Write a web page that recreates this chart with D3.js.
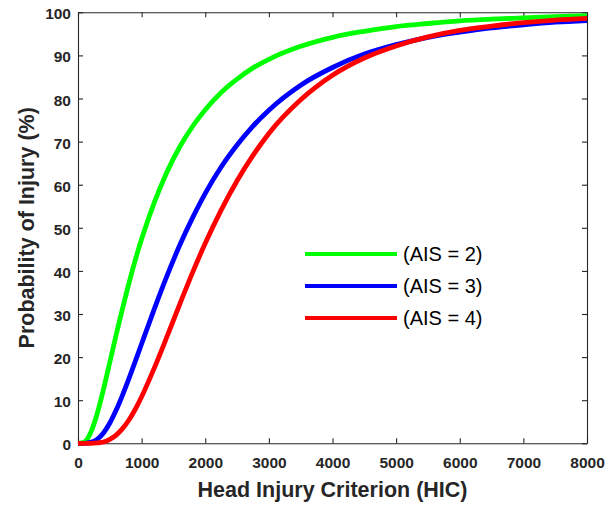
<!DOCTYPE html>
<html>
<head>
<meta charset="utf-8">
<script src="https://cdn.jsdelivr.net/npm/d3@7/dist/d3.min.js"></script>
<style>
  html, body { margin: 0; padding: 0; background: #ffffff; }
  svg { display: block; }
  text { font-family: "Liberation Sans", Arial, Helvetica, sans-serif; }
</style>
</head>
<body>
<svg id="chart" width="616" height="505"></svg>
<script>
// ---- data ----
const hic = [0, 100, 200, 300, 400, 500, 600, 700, 800, 900, 1000, 1200, 1400, 1600, 1800, 2000, 2250, 2500, 2750, 3000, 3500, 4000, 4500, 5000, 5500, 6000, 6500, 7000, 7500, 8000];
const ais2 = [0, 0.3, 2.5, 6.8, 12.5, 18.8, 25.2, 31.3, 37.1, 42.5, 47.4, 55.9, 63.0, 68.8, 73.5, 77.4, 81.4, 84.5, 87.1, 89.1, 92.1, 94.2, 95.6, 96.7, 97.4, 98.0, 98.4, 98.7, 99.0, 99.2];
const ais3 = [0, 0, 0.2, 0.9, 2.4, 4.7, 7.7, 11.2, 15.0, 19.0, 23.1, 31.2, 38.9, 46.0, 52.3, 58.0, 64.1, 69.2, 73.6, 77.3, 83.1, 87.2, 90.3, 92.5, 94.2, 95.4, 96.4, 97.1, 97.7, 98.1];
const ais4 = [0, 0, 0, 0.1, 0.3, 0.9, 1.9, 3.4, 5.4, 7.9, 10.8, 17.5, 24.8, 32.3, 39.6, 46.4, 54.1, 60.9, 66.8, 71.9, 79.7, 85.4, 89.4, 92.2, 94.3, 95.8, 96.8, 97.6, 98.2, 98.6];
const seriesNames = ["(AIS = 2)", "(AIS = 3)", "(AIS = 4)"];
const seriesColors = ["#00ff00", "#0000ff", "#ff0000"];
const xTicks = [0, 1000, 2000, 3000, 4000, 5000, 6000, 7000, 8000];
const yTicks = [0, 10, 20, 30, 40, 50, 60, 70, 80, 90, 100];
const xTitle = "Head Injury Criterion (HIC)";
const yTitle = "Probability of Injury (%)";

// ---- layout ----
const svg = d3.select("#chart");
const L = 78, R = 587, T = 12.3, B = 443.3;
const axisColor = "#262626";

const x = d3.scaleLinear().domain([0, 8000]).range([L, R]);
const y = d3.scaleLinear().domain([0, 100]).range([B, T]);

svg.append("rect").attr("width", 616).attr("height", 505).attr("fill", "#ffffff");

// axes
function styleAxis(g) {
  g.selectAll("path").attr("stroke", axisColor).attr("stroke-width", 1.1);
  g.selectAll("line").attr("stroke", axisColor).attr("stroke-width", 1.1);
  g.selectAll("text").attr("fill", axisColor).attr("font-size", "15.5px").attr("font-weight", "bold");
}

const gx = svg.append("g").attr("transform", `translate(0,${B})`)
  .call(d3.axisBottom(x).tickValues(xTicks).tickSizeInner(-5).tickSizeOuter(0).tickPadding(14).tickFormat(d3.format("d")));
styleAxis(gx);

const gxTop = svg.append("g").attr("transform", `translate(0,${T})`)
  .call(d3.axisTop(x).tickValues(xTicks).tickSizeInner(-5).tickSizeOuter(0).tickFormat(""));
styleAxis(gxTop);

const gy = svg.append("g").attr("transform", `translate(${L},0)`)
  .call(d3.axisLeft(y).tickValues(yTicks).tickSizeInner(-5).tickSizeOuter(0).tickPadding(7).tickFormat(d3.format("d")));
styleAxis(gy);
gy.selectAll("text").attr("dy", "0.42em");

const gyRight = svg.append("g").attr("transform", `translate(${R},0)`)
  .call(d3.axisRight(y).tickValues(yTicks).tickSizeInner(-5).tickSizeOuter(0).tickFormat(""));
styleAxis(gyRight);

// titles
svg.append("text")
  .attr("x", (L + R) / 2).attr("y", 496.5)
  .attr("text-anchor", "middle")
  .attr("font-size", "21.5px").attr("font-weight", "bold").attr("fill", axisColor)
  .text(xTitle);

svg.append("text")
  .attr("transform", `translate(33.5,${(T + B) / 2}) rotate(-90)`)
  .attr("text-anchor", "middle")
  .attr("font-size", "21.5px").attr("font-weight", "bold").attr("fill", axisColor)
  .text(yTitle);

// curves
const allSeries = [ais2, ais3, ais4];
const line = d3.line()
  .x((d, i) => x(hic[i]))
  .y(d => y(d))
  .curve(d3.curveMonotoneX);

allSeries.forEach((s, k) => {
  svg.append("path")
    .datum(s)
    .attr("d", line)
    .attr("fill", "none")
    .attr("stroke", seriesColors[k])
    .attr("stroke-width", 4.8)
    .attr("stroke-linejoin", "round");
});

// legend
const legY = [254, 286, 318];
seriesNames.forEach((name, k) => {
  svg.append("line")
    .attr("x1", 305).attr("x2", 397)
    .attr("y1", legY[k]).attr("y2", legY[k])
    .attr("stroke", seriesColors[k]).attr("stroke-width", 4.2);
  svg.append("text")
    .attr("x", 403).attr("y", legY[k] + 7)
    .attr("font-size", "20px").attr("fill", "#000000")
    .text(name);
});
</script>
</body>
</html>
